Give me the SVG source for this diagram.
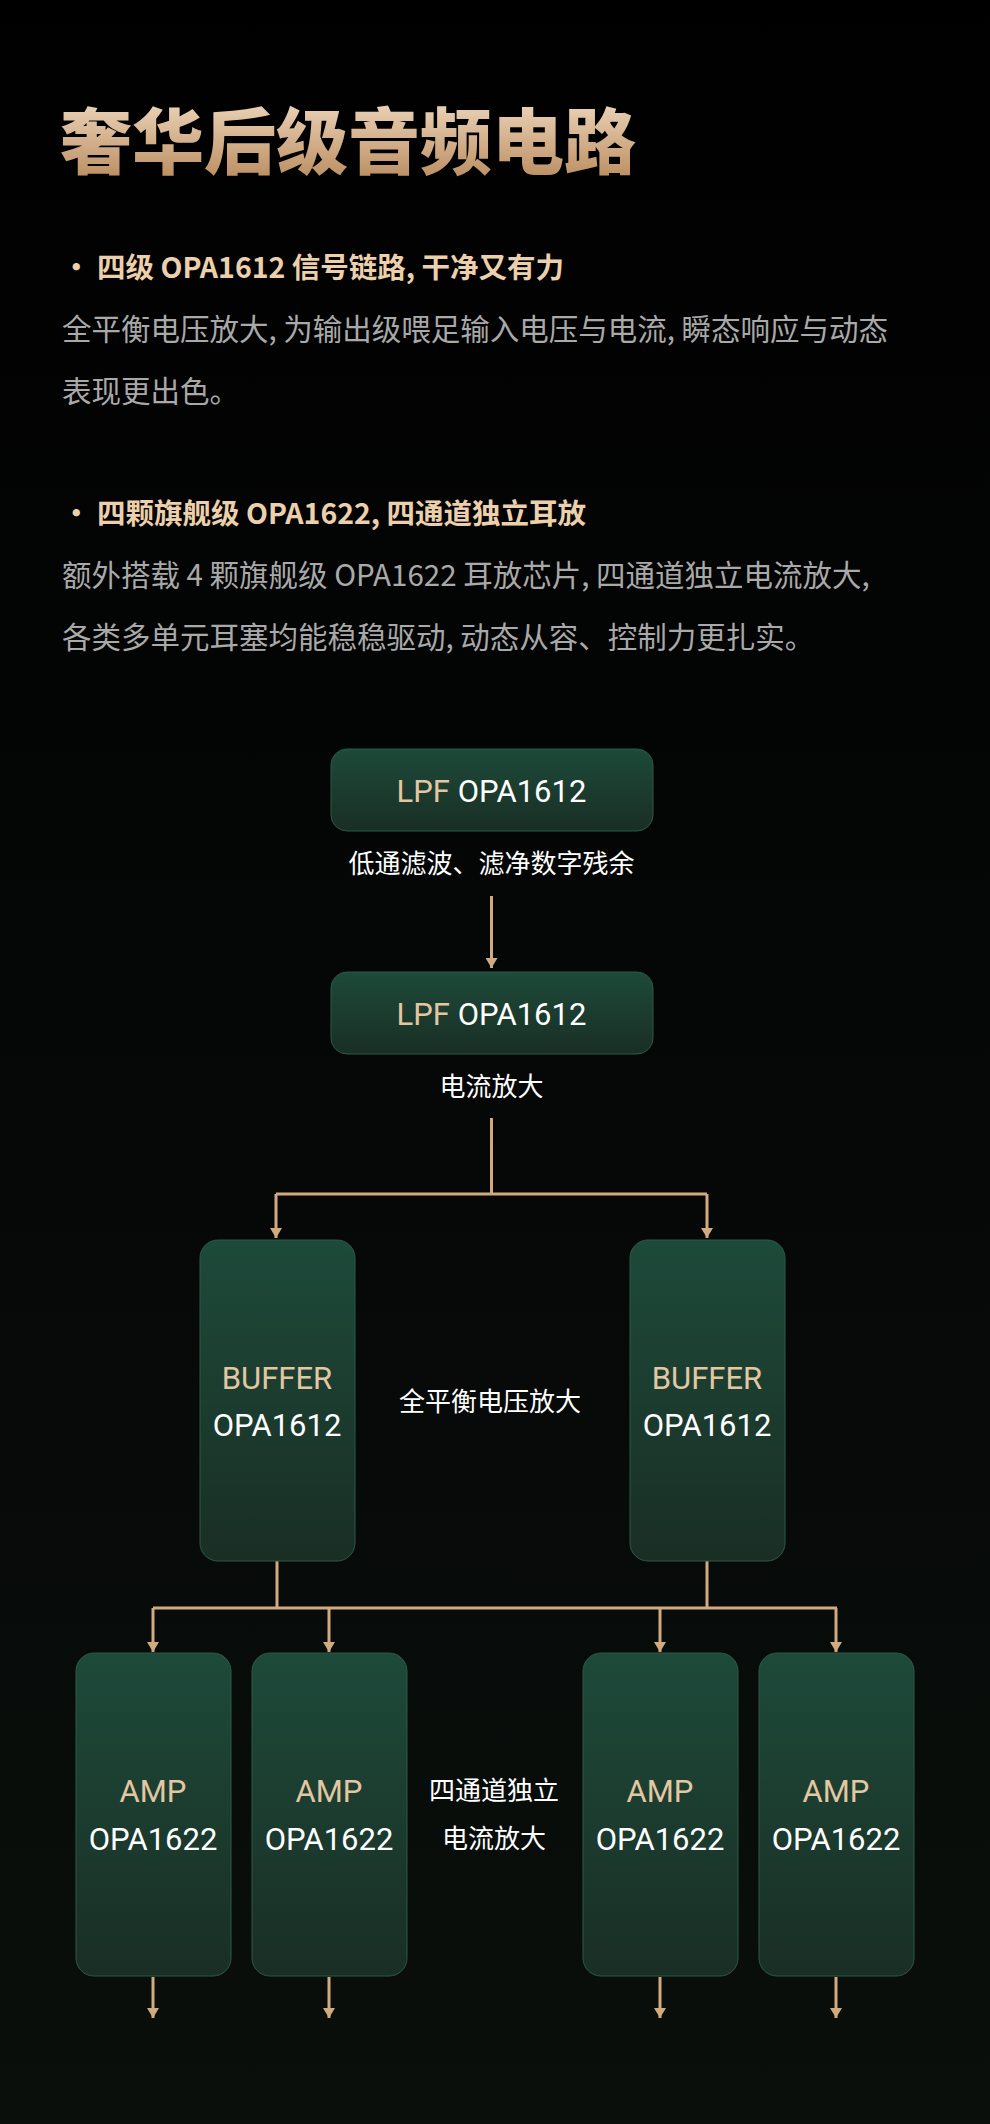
<svg xmlns="http://www.w3.org/2000/svg" width="990" height="2124" viewBox="0 0 990 2124">
<defs>
<linearGradient id="bg" x1="0" y1="0" x2="0" y2="1"><stop offset="0" stop-color="#000"/><stop offset="1" stop-color="#0a0f0c"/></linearGradient>
<linearGradient id="gold" x1="0" y1="0" x2="0" y2="1"><stop offset="0" stop-color="#f6e3cc"/><stop offset="1" stop-color="#b58556"/></linearGradient>
<linearGradient id="box" x1="0" y1="0" x2="0" y2="1"><stop offset="0" stop-color="#1d4a3a"/><stop offset="1" stop-color="#1a2e25"/></linearGradient>
<marker id="ah" viewBox="0 0 10 12" refX="10" refY="6" markerWidth="10" markerHeight="12" markerUnits="userSpaceOnUse" orient="auto"><path d="M0,0 L10,6 L0,12 z" fill="#d2aa80"/></marker>
<style>
text{font-family:"Noto Sans CJK SC","Noto Sans",sans-serif}
.h{font-size:28.5px;font-weight:700;fill:#ecd0ab}
.b{font-size:29.5px;fill:#a9a9a9}
.n{fill:url(#box);stroke:#2a5a47;stroke-width:1}
.g{fill:#e3c7a2;font-family:"Roboto","Noto Sans",sans-serif;font-size:31px}
.w{fill:#fff;font-family:"Roboto","Noto Sans",sans-serif;font-size:31px}
.l{fill:#fff;font-size:26px}
.c{stroke:#d2aa80;stroke-width:3;fill:none}
</style>
</defs>
<rect width="990" height="2124" fill="url(#bg)"/>
<text x="60" y="168" font-size="72" font-weight="900" fill="url(#gold)" style="font-family:'Noto Sans CJK SC',sans-serif">奢华后级音频电路</text>
<text class="h" x="62" y="278">· 四级 OPA1612 信号链路, 干净又有力</text>
<text class="b" x="62" y="340">全平衡电压放大, 为输出级喂足输入电压与电流, 瞬态响应与动态</text>
<text class="b" x="62" y="402">表现更出色。</text>
<text class="h" x="62" y="524">· 四颗旗舰级 OPA1622, 四通道独立耳放</text>
<text class="b" x="62" y="586">额外搭载 4 颗旗舰级 OPA1622 耳放芯片, 四通道独立电流放大,</text>
<text class="b" x="62" y="648">各类多单元耳塞均能稳稳驱动, 动态从容、控制力更扎实。</text>
<g id="connectors">
<path class="c" d="M491.5,896 V968" marker-end="url(#ah)"/>
<path class="c" d="M491.5,1118 V1194 M276,1194 H707"/>
<path class="c" d="M276,1194 V1238" marker-end="url(#ah)"/>
<path class="c" d="M707,1194 V1238" marker-end="url(#ah)"/>
<path class="c" d="M277,1561 V1608 M707,1561 V1608 M153,1608 H837"/>
<path class="c" d="M153,1608 V1652" marker-end="url(#ah)"/>
<path class="c" d="M329,1608 V1652" marker-end="url(#ah)"/>
<path class="c" d="M660,1608 V1652" marker-end="url(#ah)"/>
<path class="c" d="M836,1608 V1652" marker-end="url(#ah)"/>
<path class="c" d="M153,1977 V2018" marker-end="url(#ah)"/>
<path class="c" d="M329,1977 V2018" marker-end="url(#ah)"/>
<path class="c" d="M660,1977 V2018" marker-end="url(#ah)"/>
<path class="c" d="M836,1977 V2018" marker-end="url(#ah)"/>
</g>
<g id="lpf1"><rect class="n" x="331" y="749" width="322" height="82" rx="16"/><text x="491.5" y="802" text-anchor="middle"><tspan class="g">LPF </tspan><tspan class="w">OPA1612</tspan></text></g>
<text class="l" x="491.5" y="873" text-anchor="middle">低通滤波、滤净数字残余</text>
<g id="lpf2"><rect class="n" x="331" y="972" width="322" height="82" rx="16"/><text x="491.5" y="1025" text-anchor="middle"><tspan class="g">LPF </tspan><tspan class="w">OPA1612</tspan></text></g>
<text class="l" x="491.5" y="1096" text-anchor="middle">电流放大</text>
<g id="buf1"><rect class="n" x="200" y="1240" width="155" height="321" rx="18"/><text class="g" x="277" y="1389" text-anchor="middle">BUFFER</text><text class="w" x="277" y="1436" text-anchor="middle">OPA1612</text></g>
<g id="buf2"><rect class="n" x="630" y="1240" width="155" height="321" rx="18"/><text class="g" x="707" y="1389" text-anchor="middle">BUFFER</text><text class="w" x="707" y="1436" text-anchor="middle">OPA1612</text></g>
<text class="l" x="490" y="1411" text-anchor="middle">全平衡电压放大</text>
<g id="amp1"><rect class="n" x="76" y="1653" width="155" height="323" rx="18"/><text class="g" x="153" y="1802" text-anchor="middle">AMP</text><text class="w" x="153" y="1850" text-anchor="middle">OPA1622</text></g>
<g id="amp2"><rect class="n" x="252" y="1653" width="155" height="323" rx="18"/><text class="g" x="329" y="1802" text-anchor="middle">AMP</text><text class="w" x="329" y="1850" text-anchor="middle">OPA1622</text></g>
<g id="amp3"><rect class="n" x="583" y="1653" width="155" height="323" rx="18"/><text class="g" x="660" y="1802" text-anchor="middle">AMP</text><text class="w" x="660" y="1850" text-anchor="middle">OPA1622</text></g>
<g id="amp4"><rect class="n" x="759" y="1653" width="155" height="323" rx="18"/><text class="g" x="836" y="1802" text-anchor="middle">AMP</text><text class="w" x="836" y="1850" text-anchor="middle">OPA1622</text></g>
<text class="l" x="494" y="1800" text-anchor="middle">四通道独立</text>
<text class="l" x="494" y="1848" text-anchor="middle">电流放大</text>
</svg>
